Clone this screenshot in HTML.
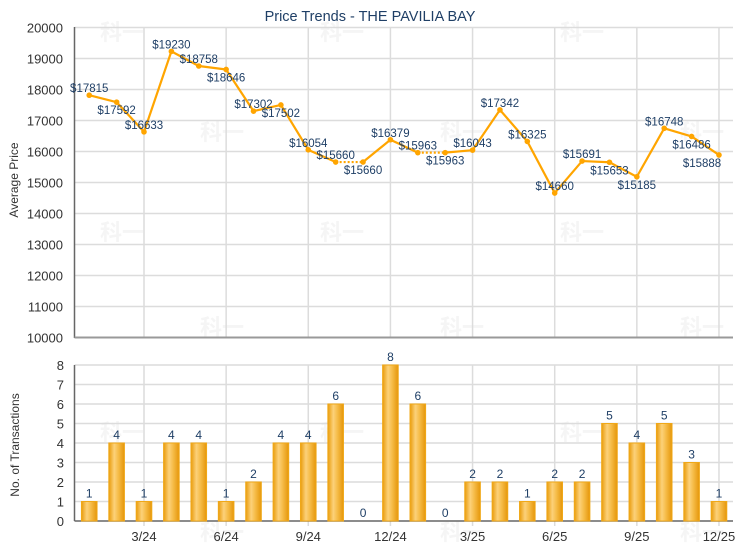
<!DOCTYPE html>
<html><head><meta charset="utf-8"><style>
body{margin:0;background:#fff;}
svg{display:block;font-family:"Liberation Sans",Arial,sans-serif;}
</style></head><body>
<svg id="c" width="740" height="550" xmlns="http://www.w3.org/2000/svg">
<defs>
<linearGradient id="g" x1="0" x2="1" y1="0" y2="0">
<stop offset="0" stop-color="#e99c0c"/>
<stop offset="0.35" stop-color="#fcd17a"/>
<stop offset="0.6" stop-color="#f6bd4a"/>
<stop offset="1" stop-color="#e5960a"/>
</linearGradient>
</defs>
<text x="370" y="21" text-anchor="middle" font-size="14.5" fill="#1f3f66">Price Trends - THE PAVILIA BAY</text>
<g id="wm" fill="#f5f5f5" font-size="22" font-weight="bold" font-family="'Noto Sans CJK SC',sans-serif"></g>
<g id="grid"></g>
<g id="bars"></g>
<g id="line"></g>
<text transform="translate(18,180) rotate(-90)" text-anchor="middle" font-size="12" fill="#333">Average Price</text>
<text transform="translate(19,445) rotate(-90)" text-anchor="middle" font-size="12" fill="#333">No. of Transactions</text>
</svg>
<script>
var NS="http://www.w3.org/2000/svg";
function el(p,t,a,txt){var e=document.createElementNS(NS,t);for(var k in a)e.setAttribute(k,a[k]);if(txt!==undefined)e.textContent=txt;document.getElementById(p).appendChild(e);return e;}
var L=74.5,R=733;
function X(i){return 144+27.38*(i-2);}
function PY(v){return 27.5+(20000-v)*0.031;}
function BY(v){return 521-v*19.5;}
for(var v=10000;v<=20000;v+=1000){var y=PY(v);
 if(v>10000)el("grid","line",{x1:L,x2:R,y1:y,y2:y,stroke:"#dcdcdc","stroke-width":1.5});
 el("grid","text",{x:63,y:y+5,"text-anchor":"end","font-size":13,fill:"#333"},v);}
for(var v=0;v<=8;v++){var y=BY(v);
 if(v>0)el("grid","line",{x1:L,x2:R,y1:y,y2:y,stroke:"#dcdcdc","stroke-width":1.5});
 el("grid","text",{x:64,y:y+5,"text-anchor":"end","font-size":13,fill:"#333"},v);}
var q=["3/24","6/24","9/24","12/24","3/25","6/25","9/25","12/25"];
for(var k=0;k<8;k++){var x=X(2+3*k);
 el("grid","line",{x1:x,x2:x,y1:27,y2:337,stroke:"#dcdcdc","stroke-width":1.5});
 el("grid","line",{x1:x,x2:x,y1:365,y2:526,stroke:"#dcdcdc","stroke-width":1.5});
 el("grid","text",{x:x,y:541,"text-anchor":"middle","font-size":13,fill:"#333"},q[k]);}
el("grid","line",{x1:L,x2:L,y1:27,y2:338,stroke:"#666","stroke-width":1.5});
el("grid","line",{x1:L,x2:R,y1:337.5,y2:337.5,stroke:"#999","stroke-width":2});
el("grid","line",{x1:L,x2:L,y1:365,y2:521,stroke:"#666","stroke-width":1.5});
el("grid","line",{x1:L,x2:R,y1:521,y2:521,stroke:"#666","stroke-width":1.5});
[[100,40],[320,40],[560,40],[200,140],[440,140],[680,140],[100,240],[320,240],[560,240],[200,335],[440,335],[680,335],[100,440],[320,440],[560,440],[200,540],[440,540],[680,540]].forEach(function(p){el("wm","text",{x:p[0],y:p[1]},"科一");});
var n=[1,4,1,4,4,1,2,4,4,6,0,8,6,0,2,2,1,2,2,5,4,5,3,1];
n.forEach(function(v,i){var x=X(i);
 if(v>0)el("bars","rect",{x:x-7.8,y:BY(v),width:15.6,height:v*19.5,fill:"url(#g)",stroke:"#f0a818","stroke-width":1});
 el("bars","text",{x:x,y:BY(v)-4,"text-anchor":"middle","font-size":12,fill:"#1f3f66"},v);});
var p=[17815,17592,16633,19230,18758,18646,17302,17502,16054,15660,15660,16379,15963,15963,16043,17342,16325,14660,15691,15653,15185,16748,16486,15888];
var up=[1,0,1,1,1,0,1,0,1,1,0,1,1,0,1,1,1,1,1,0,0,1,0,0];
for(var i=0;i<p.length-1;i++){
 var a={x1:X(i),y1:PY(p[i]),x2:X(i+1),y2:PY(p[i+1]),stroke:"#ffa500","stroke-width":2.2};
 if(p[i]==p[i+1])a["stroke-dasharray"]="2,2";
 el("line","line",a);}
p.forEach(function(v,i){var x=X(i),y=PY(v);
 el("line","circle",{cx:x,cy:y,r:2.8,fill:"#ffa500"});
 var tx=Math.min(x,702);
 el("line","text",{x:tx,y:up[i]?y-3:y+12,"text-anchor":"middle","font-size":11.5,fill:"#1f3f66"},"$"+v);});
</script>
</body></html>
